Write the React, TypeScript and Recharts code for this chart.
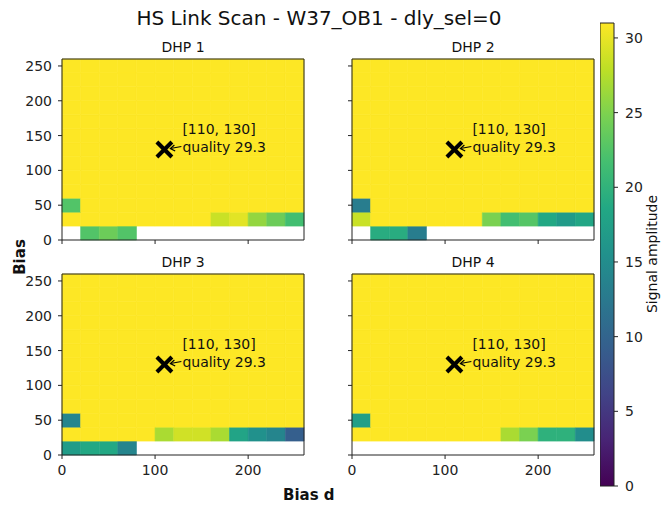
import React from "react";
import { ComposedChart, XAxis, YAxis, ReferenceArea, ReferenceDot } from "recharts";

const FONT = "'DejaVu Sans', sans-serif";

// bin starts, each bin is 20 wide
const biasD = [0, 20, 40, 60, 80, 100, 120, 140, 160, 180, 200, 220, 240];
const bias = [0, 20, 40, 60, 80, 100, 120, 140, 160, 180, 200, 220, 240];
const binSize = 20;
const axisMax = 260;

const xTicks = [0, 100, 200];
const yTicks = [0, 50, 100, 150, 200, 250];
const cbarTicks = [0, 5, 10, 15, 20, 25, 30];
const cbarMax = 31;

// everything from bias 60 upwards reads saturated
const saturated = 31;

// lowest bias rows (bias 0, 20, 40) for each DHP, null = no data
const dhp1Rows = [
  [null, 22.5, 24, 22.5, null, null, null, null, null, null, null, null, null],
  [31, 31, 31, 31, 31, 31, 31, 31, 28.5, 29.7, 26, 24, 21.5],
  [22.5, 31, 31, 31, 31, 31, 31, 31, 31, 31, 31, 31, 31],
];
const dhp2Rows = [
  [null, 19.2, 19.2, 13, null, null, null, null, null, null, null, null, null],
  [28.5, 31, 31, 31, 31, 31, 31, 24.8, 21.5, 22.7, 18.6, 16.8, 18.3],
  [13, 31, 31, 31, 31, 31, 31, 31, 31, 31, 31, 31, 31],
];
const dhp3Rows = [
  [17, 18.6, 18.6, 14, null, null, null, null, null, null, null, null, null],
  [31, 31, 31, 31, 31, 27, 28.8, 28.8, 27, 18, 15.5, 14, 9.3],
  [14, 31, 31, 31, 31, 31, 31, 31, 31, 31, 31, 31, 31],
];
const dhp4Rows = [
  [null, null, null, null, null, null, null, null, null, null, null, null, null],
  [31, 31, 31, 31, 31, 31, 31, 31, 27, 24.8, 19.8, 19.8, 15],
  [17.4, 31, 31, 31, 31, 31, 31, 31, 31, 31, 31, 31, 31],
];

const best = { x: 110, y: 130, quality: 29.3 };

const viridisStops = [
  "#440154", "#482475", "#414487", "#355f8d", "#2a788e", "#21918c",
  "#22a884", "#44bf70", "#7ad151", "#bddf26", "#fde725",
];

function hexToRgb(h: string) {
  const n = parseInt(h.slice(1), 16);
  return [(n >> 16) & 255, (n >> 8) & 255, n & 255];
}

function viridis(t: number) {
  const c = Math.max(0, Math.min(1, t)) * (viridisStops.length - 1);
  const i = Math.min(Math.floor(c), viridisStops.length - 2);
  const f = c - i;
  const a = hexToRgb(viridisStops[i]);
  const b = hexToRgb(viridisStops[i + 1]);
  const m = a.map((v, k) => Math.round(v + (b[k] - v) * f));
  return `rgb(${m[0]},${m[1]},${m[2]})`;
}

const panels = [
  { title: "DHP 1", rows: dhp1Rows, left: 62, top: 59, xLabels: false, yLabels: true },
  { title: "DHP 2", rows: dhp2Rows, left: 352, top: 59, xLabels: false, yLabels: false },
  { title: "DHP 3", rows: dhp3Rows, left: 62, top: 274, xLabels: true, yLabels: true },
  { title: "DHP 4", rows: dhp4Rows, left: 352, top: 274, xLabels: true, yLabels: false },
];

const PLOT_W = 242;
const PLOT_H = 181;
const Y_AXIS_W = 62;
const X_AXIS_H = 30;

function BestMarker(props: any) {
  const { cx, cy } = props;
  const s = 7.5;
  return (
    <g>
      <line x1={cx - s} y1={cy - s} x2={cx + s} y2={cy + s} stroke="#000" strokeWidth={4} />
      <line x1={cx - s} y1={cy + s} x2={cx + s} y2={cy - s} stroke="#000" strokeWidth={4} />
      <line x1={cx + 17} y1={cy - 3} x2={cx + 6} y2={cy - 1} stroke="#000" strokeWidth={1.2} />
      <polyline
        points={`${cx + 10},${cy - 4.5} ${cx + 6},${cy - 1} ${cx + 10.8},${cy + 1.5}`}
        fill="none"
        stroke="#000"
        strokeWidth={1.2}
      />
      <text x={cx + 18} y={cy - 16} fontSize={14} fontFamily={FONT} fill="#111">
        [{best.x}, {best.y}]
      </text>
      <text x={cx + 18} y={cy + 2} fontSize={14} fontFamily={FONT} fill="#111">
        quality {best.quality}
      </text>
    </g>
  );
}

function Panel({ p }: { p: (typeof panels)[number] }) {
  const cells: { x1: number; x2: number; y1: number; y2: number; v: number }[] = [];
  bias.forEach((b, r) => {
    const row = r < p.rows.length ? p.rows[r] : null;
    biasD.forEach((d, c) => {
      const v = row ? row[c] : saturated;
      if (v == null) return;
      cells.push({ x1: d, x2: d + binSize, y1: b, y2: b + binSize, v });
    });
  });

  return (
    <div style={{ position: "absolute", left: p.left - Y_AXIS_W, top: p.top - 10 }}>
      <ComposedChart
        width={Y_AXIS_W + PLOT_W + 10}
        height={10 + PLOT_H + X_AXIS_H}
        data={cells}
        margin={{ top: 10, right: 10, left: 0, bottom: 0 }}
      >
        <XAxis
          type="number"
          dataKey="x1"
          domain={[0, axisMax]}
          ticks={xTicks}
          allowDataOverflow
          height={X_AXIS_H}
          axisLine={false}
          tickSize={4}
          tickMargin={6}
          tickLine={{ stroke: "#222" }}
          tick={(t: any) =>
            p.xLabels ? (
              <text x={t.x} y={t.y} dy="0.71em" textAnchor="middle" fontSize={14} fontFamily={FONT} fill="#222">
                {t.payload.value}
              </text>
            ) : (
              <g />
            )
          }
        />
        <YAxis
          type="number"
          dataKey="y1"
          domain={[0, axisMax]}
          ticks={yTicks}
          allowDataOverflow
          width={Y_AXIS_W}
          axisLine={false}
          tickSize={4}
          tickMargin={6}
          tickLine={{ stroke: "#222" }}
          tick={(t: any) =>
            p.yLabels ? (
              <text x={t.x} y={t.y} dy="0.355em" textAnchor="end" fontSize={14} fontFamily={FONT} fill="#222">
                {t.payload.value}
              </text>
            ) : (
              <g />
            )
          }
        />
        {cells.map((c, i) => (
          <ReferenceArea
            key={i}
            x1={c.x1}
            x2={c.x2}
            y1={c.y1}
            y2={c.y2}
            fill={viridis(c.v / cbarMax)}
            fillOpacity={1}
            stroke={viridis(c.v / cbarMax)}
            strokeWidth={0.6}
            ifOverflow="visible"
          />
        ))}
        <ReferenceArea x1={0} x2={axisMax} y1={0} y2={axisMax} fill="none" stroke="#222" strokeWidth={1} ifOverflow="visible" />
        <ReferenceDot x={best.x} y={best.y} r={1} ifOverflow="visible" shape={(s: any) => <BestMarker {...s} />} />
      </ComposedChart>
    </div>
  );
}

function Colorbar() {
  return (
    <div style={{ position: "absolute", left: 600, top: 13 }}>
      <ComposedChart
        width={64}
        height={483}
        data={[{ x: 0, v: 0 }, { x: 1, v: cbarMax }]}
        margin={{ top: 10, right: 0, left: 0, bottom: 10 }}
      >
        <defs>
          <linearGradient id="viridisBar" x1="0" y1="1" x2="0" y2="0">
            {viridisStops.map((c, i) => (
              <stop key={i} offset={i / (viridisStops.length - 1)} stopColor={c} />
            ))}
          </linearGradient>
        </defs>
        <XAxis type="number" dataKey="x" domain={[0, 1]} hide />
        <YAxis
          type="number"
          dataKey="v"
          orientation="right"
          domain={[0, cbarMax]}
          ticks={cbarTicks}
          width={50}
          axisLine={false}
          tickSize={4}
          tickMargin={7}
          tickLine={{ stroke: "#222" }}
          tick={{ fontSize: 14, fontFamily: FONT, fill: "#222" }}
        />
        <ReferenceArea x1={0} x2={1} y1={0} y2={cbarMax} fill="url(#viridisBar)" fillOpacity={1} stroke="#222" strokeWidth={1} />
      </ComposedChart>
    </div>
  );
}

export default function App() {
  return (
    <div style={{ position: "absolute", left: 0, top: 0, width: 662, height: 507, background: "#fff" }}>
      {panels.map((p) => (
        <Panel key={p.title} p={p} />
      ))}
      <Colorbar />
      <svg width={662} height={507} style={{ position: "absolute", left: 0, top: 0, pointerEvents: "none" }}>
        <text x={319} y={25} textAnchor="middle" fontSize={20} fontFamily={FONT} fill="#111">
          HS Link Scan - W37_OB1 - dly_sel=0
        </text>
        {panels.map((p) => (
          <text key={p.title} x={p.left + PLOT_W / 2} y={p.top - 7} textAnchor="middle" fontSize={14} fontFamily={FONT} fill="#111">
            {p.title}
          </text>
        ))}
        <text x={25} y={257} transform="rotate(-90 25 257)" textAnchor="middle" fontSize={15} fontWeight="bold" fontFamily={FONT} fill="#111">
          Bias
        </text>
        <text x={283} y={500} fontSize={15} fontWeight="bold" fontFamily={FONT} fill="#111">
          Bias d
        </text>
        <text x={657} y={254} transform="rotate(-90 657 254)" textAnchor="middle" fontSize={14} fontFamily={FONT} fill="#111">
          Signal amplitude
        </text>
      </svg>
    </div>
  );
}
